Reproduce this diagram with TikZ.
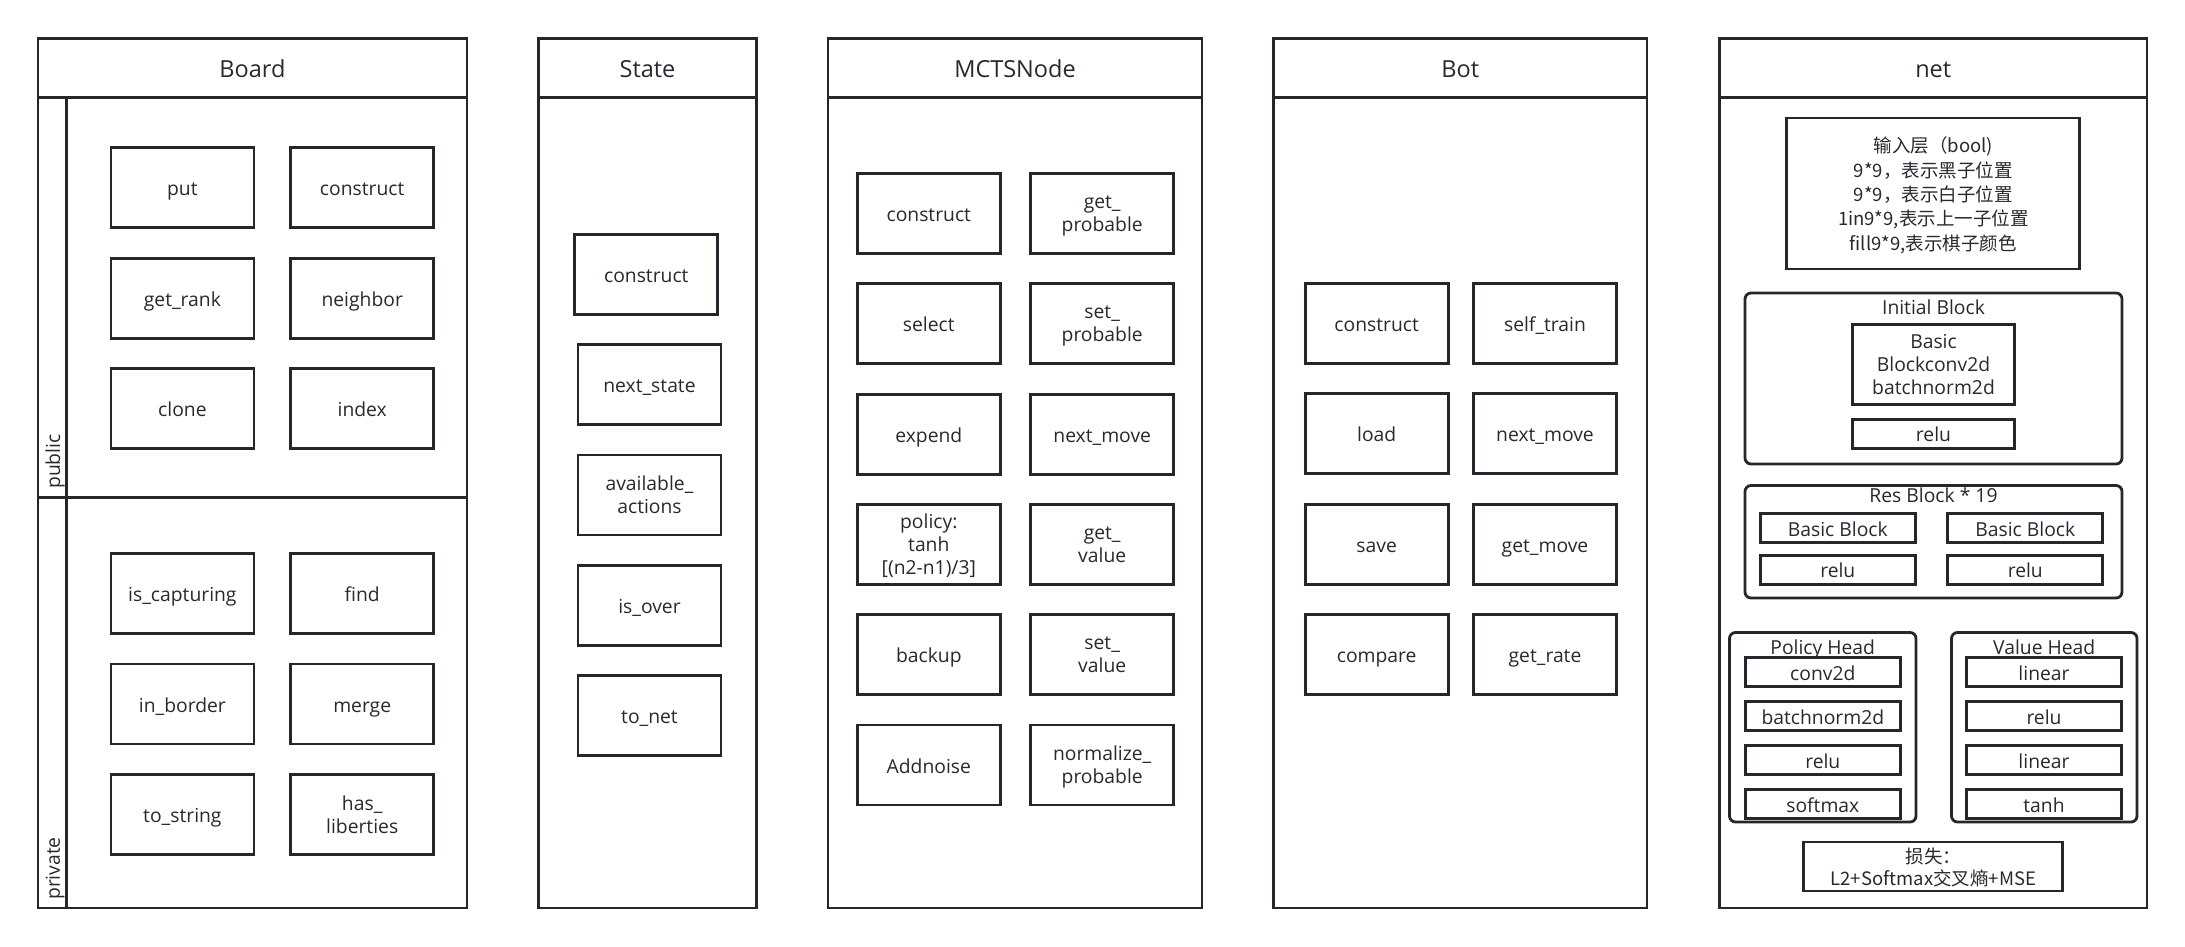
\documentclass[tikz,border=0pt]{standalone}
\usepackage{fontspec}
\setmainfont{Open Sans}
\newfontfamily\cjk{Noto Sans CJK SC}
\definecolor{lc}{HTML}{24282D}
\definecolor{tc}{HTML}{262A2F}
\tikzset{
  lw/.style={draw=lc, line width=2.8pt},
  hdr/.style={lw, rectangle, inner sep=0pt, text=tc, font=\fontsize{23.5}{28}\selectfont, minimum height=59.5pt,
    text height=19pt, text depth=0pt},
  mbox/.style={lw, rectangle, fill=white, inner sep=0pt, align=center, text=tc,
    font=\fontsize{19.3}{23}\selectfont, minimum width=143pt, minimum height=80pt,
    text height=17pt, text depth=1pt},
  ml/.style={text height=, text depth=0pt},
  sbox/.style={mbox, minimum width=155pt, minimum height=29pt},
  grp/.style={lw, rounded corners=6pt},
  ttl/.style={inner sep=0pt, text=tc, font=\fontsize{19.3}{23}\selectfont, text height=17pt, text depth=1pt},
  vlab/.style={inner sep=0pt, text=tc, font=\fontsize{19.3}{23}\selectfont, rotate=90, anchor=west},
  cjkbox/.style={mbox, ml, font=\cjk\fontsize{18.5}{24.3}\selectfont}
}
\begin{document}
\begin{tikzpicture}[x=1pt,y=-1pt]
\useasboundingbox[fill=white] (0,0) rectangle (2185,946);

% ---------- Board ----------
\node[hdr, minimum width=429pt] (boardH) at (252.5,68) {Board};
\draw[lw] (38,97.5) rectangle (467,908);
\draw[lw] (66.5,97.5) -- (66.5,908);
\draw[lw] (38,497.5) -- (467,497.5);
\node[vlab] (pub) at (55,489) {public};
\node[vlab] (priv) at (55,900) {private};
\node[mbox] (bput) at (182.4,187.7) {put};
\node[mbox] (bcons) at (362.2,187.7) {construct};
\node[mbox] (brank) at (182.4,298.2) {get\_rank};
\node[mbox] (bnei) at (362.2,298.2) {neighbor};
\node[mbox] (bclone) at (182.4,408.2) {clone};
\node[mbox] (bidx) at (362.2,408.2) {index};
\node[mbox] (bcap) at (182.4,593.5) {is\_capturing};
\node[mbox] (bfind) at (362.2,593.5) {find};
\node[mbox] (bbord) at (182.4,704) {in\_border};
\node[mbox] (bmerge) at (362.2,704) {merge};
\node[mbox] (bstr) at (182.4,814.3) {to\_string};
\node[mbox, ml] (blib) at (362.2,814.3) {has\_\\liberties};

% ---------- State ----------
\node[hdr, minimum width=218pt] (stateH) at (647.5,68) {State};
\draw[lw] (538.5,97.5) rectangle (756.5,908);
\node[mbox] (scons) at (646.3,274.3) {construct};
\node[mbox] (snext) at (649.5,384.8) {next\_state};
\node[mbox, ml] (savail) at (649.5,495) {available\_\\actions};
\node[mbox] (sover) at (649.5,605.5) {is\_over};
\node[mbox] (snet) at (649.5,715.8) {to\_net};

% ---------- MCTSNode ----------
\node[hdr, minimum width=374pt] (mctsH) at (1015,68) {MCTSNode};
\draw[lw] (828,97.5) rectangle (1202,908);
\node[mbox] (mcons) at (928.8,213.3) {construct};
\node[mbox, ml] (mgetp) at (1102.2,213.3) {get\_\\probable};
\node[mbox] (msel) at (928.8,323.5) {select};
\node[mbox, ml] (msetp) at (1102.2,323.5) {set\_\\probable};
\node[mbox] (mexp) at (928.8,434.2) {expend};
\node[mbox] (mnext) at (1102.2,434.2) {next\_move};
\node[mbox, ml] (mpol) at (928.8,544.3) {policy:\\tanh\\{}[(n2-n1)/3]};
\node[mbox, ml] (mgetv) at (1102.2,544.3) {get\_\\value};
\node[mbox] (mback) at (928.8,654.8) {backup};
\node[mbox, ml] (msetv) at (1102.2,654.8) {set\_\\value};
\node[mbox] (mnoise) at (928.8,765) {Addnoise};
\node[mbox, ml] (mnorm) at (1102.2,765) {normalize\_\\probable};

% ---------- Bot ----------
\node[hdr, minimum width=373.5pt] (botH) at (1460.25,68) {Bot};
\draw[lw] (1273.5,97.5) rectangle (1647,908);
\node[mbox] (tcons) at (1376.7,323.3) {construct};
\node[mbox] (ttrain) at (1545,323.3) {self\_train};
\node[mbox] (tload) at (1376.7,433.8) {load};
\node[mbox] (tnext) at (1545,433.8) {next\_move};
\node[mbox] (tsave) at (1376.7,544.3) {save};
\node[mbox] (tget) at (1545,544.3) {get\_move};
\node[mbox] (tcomp) at (1376.7,654.5) {compare};
\node[mbox] (trate) at (1545,654.5) {get\_rate};

% ---------- net ----------
\node[hdr, minimum width=427.5pt] (netH) at (1933.25,68) {net};
\draw[lw] (1719.5,97.5) rectangle (2147,908);
\node[cjkbox, minimum width=293pt, minimum height=151pt] (ninput) at (1933.3,193.5)
  {输入层（bool)\\9*9，表示黑子位置\\9*9，表示白子位置\\1in9*9,表示上一子位置\\fill9*9,表示棋子颜色};

\draw[grp] (1745,293) rectangle (2122,464);
\node[ttl] (initT) at (1933.5,306) {Initial Block};
\node[mbox, ml, minimum width=162pt, minimum height=80pt] (ibasic) at (1933.5,364.8) {Basic\\Blockconv2d\\batchnorm2d};
\node[mbox, minimum width=162pt, minimum height=29pt] (irelu) at (1933.5,433.7) {relu};

\draw[grp] (1745,485.5) rectangle (2122,598);
\node[ttl] (resT) at (1933.5,494) {Res Block * 19};
\node[sbox] (rb1) at (1837.8,528.3) {Basic Block};
\node[sbox] (rr1) at (1837.8,569.8) {relu};
\node[sbox] (rb2) at (2025.3,528.3) {Basic Block};
\node[sbox] (rr2) at (2025.3,569.8) {relu};

\draw[grp] (1729.5,632.5) rectangle (1916,822);
\node[ttl] (polT) at (1822.7,646.5) {Policy Head};
\node[sbox] (p1) at (1822.8,672.2) {conv2d};
\node[sbox] (p2) at (1822.8,716.2) {batchnorm2d};
\node[sbox] (p3) at (1822.8,760.3) {relu};
\node[sbox] (p4) at (1822.8,804.2) {softmax};

\draw[grp] (1951.5,632.5) rectangle (2137,822);
\node[ttl] (valT) at (2044.2,646.5) {Value Head};
\node[sbox] (v1) at (2044,672.2) {linear};
\node[sbox] (v2) at (2044,716.2) {relu};
\node[sbox] (v3) at (2044,760.3) {linear};
\node[sbox] (v4) at (2044,804.2) {tanh};

\node[cjkbox, minimum width=259pt, minimum height=49pt, font=\cjk\fontsize{18.5}{22.5}\selectfont] (loss) at (1933.3,866.5)
  {损失：\\L2+Softmax交叉熵+MSE};
\end{tikzpicture}
\end{document}
